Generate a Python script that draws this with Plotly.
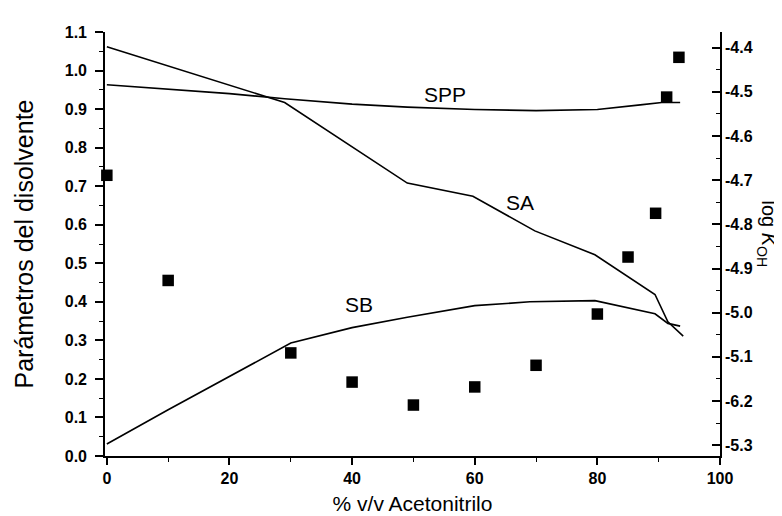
import plotly.graph_objects as go

# % v/v acetonitrile for the solvent parameter curves
spp_x = [0, 10, 20, 29, 40, 49, 60, 70, 80, 87, 90.5, 93.5]
spp_y = [0.963, 0.952, 0.940, 0.927, 0.913, 0.905, 0.899, 0.896, 0.899, 0.911, 0.917, 0.917]

sa_x = [0, 29, 49, 59.7, 69.8, 79.6, 89.4, 91.5, 94]
sa_y = [1.062, 0.917, 0.708, 0.674, 0.584, 0.522, 0.419, 0.348, 0.311]

sb_x = [0, 10, 30, 40, 49, 60, 69, 79.6, 89.4, 91.5, 93.5]
sb_y = [0.031, 0.12, 0.293, 0.333, 0.36, 0.39, 0.40, 0.403, 0.369, 0.344, 0.337]

# log K_OH points (right axis)
k_x = [0, 10, 30, 40, 50, 60, 70, 80, 85, 89.5, 91.3, 93.3]
k_y = [-4.689, -4.927, -5.091, -5.157, -5.209, -5.168, -5.119, -5.003, -4.874, -4.775, -4.512, -4.422]

# right axis labels as printed (the -5.2 tick is misprinted as -6.2)
r_vals = [-5.3, -5.2, -5.1, -5.0, -4.9, -4.8, -4.7, -4.6, -4.5, -4.4]
r_text = ["-5.3", "-6.2", "-5.1", "-5.0", "-4.9", "-4.8", "-4.7", "-4.6", "-4.5", "-4.4"]

fnt = "Liberation Sans, Arial, sans-serif"
line = dict(color="black", width=1.6)
tickf = dict(size=16, weight="bold", color="black")

fig = go.Figure()
fig.add_trace(go.Scatter(x=spp_x, y=spp_y, mode="lines", line=line))
fig.add_trace(go.Scatter(x=sa_x, y=sa_y, mode="lines", line=line))
fig.add_trace(go.Scatter(x=sb_x, y=sb_y, mode="lines", line=line))
fig.add_trace(go.Scatter(x=k_x, y=k_y, mode="markers", yaxis="y2", cliponaxis=False,
                         marker=dict(symbol="square", size=11.5, color="black")))

# curve labels
for txt, xx, yy in [("SPP", 55.1, 0.939), ("SA", 67.3, 0.657), ("SB", 41.1, 0.394)]:
    fig.add_annotation(x=xx, y=yy, text=txt, showarrow=False,
                       font=dict(family=fnt, size=21, color="black"))

fig.add_annotation(xref="paper", yref="paper", x=1.0, xshift=62, y=0.5, yshift=10,
                   text="log <i>K</i><sub>OH</sub>", textangle=90, showarrow=False,
                   font=dict(family=fnt, size=20, color="black"))

fig.update_layout(
    width=782, height=516,
    margin=dict(l=97, r=70, t=24, b=57),
    plot_bgcolor="white", paper_bgcolor="white",
    showlegend=False,
    font=dict(family=fnt, color="black"),
    xaxis=dict(range=[-0.3, 100], showgrid=False, zeroline=False,
               showline=True, linecolor="black", linewidth=1.6,
               tickvals=[0, 20, 40, 60, 80, 100], ticks="outside", ticklen=7, tickwidth=1.5,
               tickcolor="black", tickfont=tickf,
               minor=dict(dtick=10, ticks="outside", ticklen=4, tickwidth=1.3, tickcolor="black"),
               title=dict(text="% v/v Acetonitrilo", font=dict(size=21), standoff=10)),
    yaxis=dict(range=[0, 1.1], showgrid=False, zeroline=False,
               showline=True, linecolor="black", linewidth=1.6,
               dtick=0.1, tickformat=".1f", ticks="outside", ticklen=8, tickwidth=1.5,
               tickcolor="black", tickfont=tickf, ticklabelstandoff=5,
               minor=dict(dtick=0.05, ticks="outside", ticklen=4, tickwidth=1.3, tickcolor="black"),
               title=dict(text="Parámetros del disolvente", font=dict(size=25), standoff=24)),
    yaxis2=dict(range=[-5.3243, -4.3647], overlaying="y", side="right",
                showgrid=False, zeroline=False,
                showline=True, linecolor="black", linewidth=1.6,
                tickvals=r_vals, ticktext=r_text, ticks="inside", ticklen=8, tickwidth=1.5,
                tickcolor="black", tickfont=tickf,
                minor=dict(dtick=0.05, ticks="inside", ticklen=4, tickwidth=1.3, tickcolor="black")),
)

fig.write_html("out.html")
